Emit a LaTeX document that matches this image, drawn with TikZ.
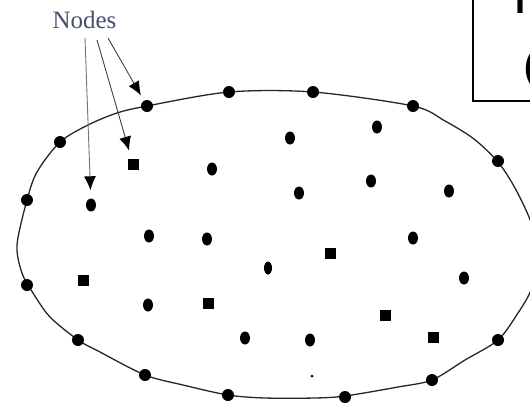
\documentclass[tikz,border=0pt]{standalone}
\usepackage{fontspec}
\setmainfont{Liberation Serif}
\newfontfamily\boxfont{Liberation Sans}
\usetikzlibrary{shapes.geometric,arrows.meta}
\definecolor{labelc}{RGB}{70,80,110}
\begin{document}
\begin{tikzpicture}[x=1pt,y=-1pt,
  rdot/.style={ellipse,fill=black,inner sep=0pt,minimum width=10pt,minimum height=13pt},
  sdot/.style={rectangle,fill=black,inner sep=0pt,minimum size=11pt},
  bdot/.style={circle,fill=black,inner sep=0pt,minimum size=12pt},
  tdot/.style={circle,fill=black,inner sep=0pt,minimum size=3pt},
  ptr/.style={draw=black!75,line width=0.9pt,-{Latex[length=14pt,width=12pt,black]}},
  boundary/.style={draw=black!85,line width=1.3pt},
  boxtext/.style={font=\boxfont\bfseries\fontsize{36}{36}\selectfont,inner sep=0pt,anchor=base west}]
\useasboundingbox (0,0) rectangle (530,402);
\clip (0,0) rectangle (530,402);

% field boundary
\draw[boundary] plot[smooth cycle, tension=0.5] coordinates {
  (17,245) (22,273) (33,293) (50,317) (78,340) (100,352) (145,375) (183,385)
  (228,395) (265,398) (315,398) (345,396) (398,387) (432,380) (465,360)
  (498,340) (518,313) (531,290) (540,256) (531,222) (515,188) (498,162) (474,139)
  (445,121) (413,106) (313,92) (229,92) (147,106) (117,113) (88,125)
  (60,142) (37,172) (27,200)};

% boundary nodes
\node[bdot] (b1) at (27,200) {};
\node[bdot] (b2) at (60,142) {};
\node[bdot] (b3) at (147,106) {};
\node[bdot] (b4) at (229,92) {};
\node[bdot] (b5) at (313,92) {};
\node[bdot] (b6) at (413,106) {};
\node[bdot] (b7) at (498,161) {};
\node[bdot] (b8) at (27,285) {};
\node[bdot] (b9) at (78,340) {};
\node[bdot] (b10) at (145,375) {};
\node[bdot] (b11) at (228,395) {};
\node[bdot] (b12) at (345,397) {};
\node[bdot] (b13) at (432,380) {};
\node[bdot] (b14) at (498,340) {};

% interior nodes
\node[rdot] (n1) at (91,205) {};
\node[sdot] (n2) at (133,164) {};
\node[rdot] (n3) at (212,169) {};
\node[rdot] (n4) at (290,138) {};
\node[rdot] (n5) at (377,127) {};
\node[rdot] (n6) at (149,236) {};
\node[rdot] (n7) at (207,239) {};
\node[rdot] (n8) at (299,193) {};
\node[rdot] (n9) at (371,181) {};
\node[rdot] (n10) at (449,191) {};
\node[rdot] (n11) at (413,238) {};
\node[sdot] (n12) at (330,253) {};
\node[rdot,minimum width=8pt] (n13) at (268,268) {};
\node[rdot] (n14) at (464,278) {};
\node[sdot] (n15) at (83,280) {};
\node[rdot] (n16) at (148,305) {};
\node[sdot] (n17) at (208,303) {};
\node[rdot] (n18) at (245,338) {};
\node[rdot] (n19) at (310,340) {};
\node[sdot] (n20) at (385,315) {};
\node[sdot] (n21) at (433,337) {};
\node[tdot] (n22) at (312,376) {};

% label and pointers
\node[font=\fontsize{25}{25}\selectfont,text=labelc,inner sep=0pt,anchor=base] (lab) at (84.5,28) {Nodes};
\coordinate (s1) at (85,38);
\coordinate (s2) at (97,40);
\coordinate (s3) at (108,38);
\draw[ptr,draw=black!55,shorten >=8pt] (s1) -- (n1);
\draw[ptr,shorten >=8pt] (s2) -- (n2);
\draw[ptr,shorten >=6pt] (s3) -- (b3);

% partly visible box, top right
\draw[line width=1.5pt] (473,-10) rectangle (560,101);
\node[boxtext] (t1) at (515,13) {I};
\node[boxtext] (t2) at (524,78) {(};
\end{tikzpicture}
\end{document}
